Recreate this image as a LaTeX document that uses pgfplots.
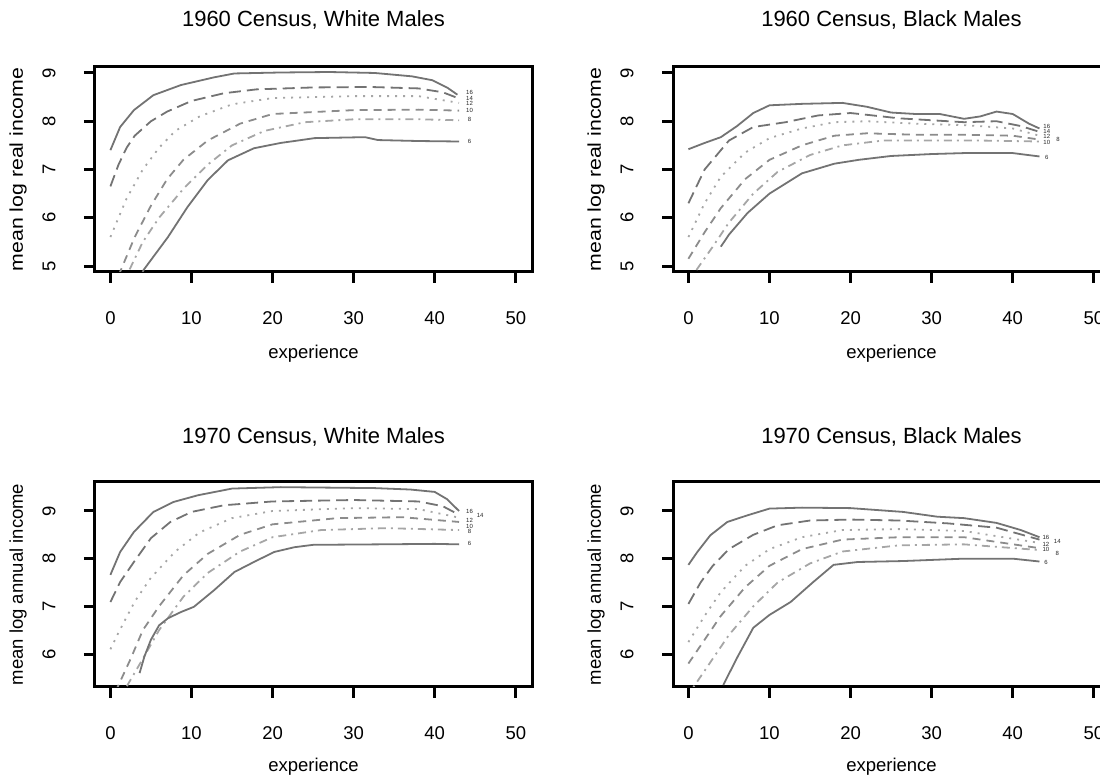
\documentclass[border=0pt]{standalone}
\usepackage{pgfplots}
\pgfplotsset{compat=1.18}
\usepackage{fontspec}
\setmainfont{Liberation Sans}
\usepackage{graphicx}

\tikzset{lab/.style={font=\fontsize{6}{6}\selectfont, text=black!85, inner sep=0pt}}
\pgfplotsset{
  panel/.style={
    scale only axis, width=437pt, height=205pt,
    xmin=-1.9, xmax=52,
    axis line style={line width=3pt, black},
    tick style={line width=3pt, black},
    tick align=outside, major tick length=11pt,
    xtick={0,10,20,30,40,50},
    xtick pos=bottom, ytick pos=left,
    /pgf/number format/assume math mode=true,
    ticklabel style={font=\fontsize{18.5}{18.5}\selectfont},
    xticklabel style={anchor=center, yshift=-35.5pt},
    yticklabel style={anchor=center, xshift=-35pt, rotate=90},
    every axis title/.style={at={(axis description cs:0.5,1)}, anchor=center, yshift=47pt, font=\fontsize{22}{22}\selectfont},
    every axis x label/.style={at={(axis description cs:0.5,0)}, anchor=center, yshift=-82pt, font=\fontsize{18.5}{18.5}\selectfont},
    every axis y label/.style={at={(axis description cs:0,0.5)}, anchor=center, xshift=-77pt, rotate=90, font=\fontsize{18.5}{18.5}\selectfont},
    xlabel={experience},
    clip=true,
  },
  cA/.style={black!55, line width=1.8pt},
  cB/.style={black!55, line width=1.8pt, dash pattern=on 12pt off 6pt},
  cC/.style={black!35, line width=1.8pt, dash pattern=on 2pt off 6pt},
  cD/.style={black!45, line width=1.8pt, dash pattern=on 8pt off 6pt},
  cE/.style={black!35, line width=1.8pt, dash pattern=on 2pt off 5pt on 8pt off 5pt},
  cF/.style={black!55, line width=1.8pt},
}

\begin{document}
\begin{tikzpicture}[x=1pt,y=1pt]
% ---------------- 1960 White ----------------
\begin{axis}[panel, at={(95pt,503pt)}, anchor=south west,
  ymin=4.876, ymax=9.124, ytick={5,6,7,8,9},
  title={1960 Census, White Males},
  ylabel={\scalebox{1.15}[1]{mean log real income}}]
\addplot[cA] coordinates {(0,7.40)(1.2,7.88)(2.9,8.23)(5.3,8.54)(8.7,8.75)(12.8,8.91)(15.3,8.99)(21,9.01)(27,9.02)(32.6,9.0)(37.2,8.93)(39.7,8.85)(41.6,8.69)(42.8,8.55)};
\addplot[cB] coordinates {(0,6.65)(1,7.1)(2,7.45)(3,7.7)(5,8.0)(7,8.2)(10,8.42)(14,8.58)(18,8.66)(25,8.7)(32,8.71)(38,8.68)(41,8.6)(43,8.47)};
\addplot[cC] coordinates {(0,5.6)(2,6.4)(4,7.0)(6,7.45)(8,7.8)(11,8.1)(15,8.35)(20,8.48)(30,8.52)(38,8.52)(43,8.38)};
\addplot[cD] coordinates {(1,4.8)(3,5.6)(5,6.25)(7,6.8)(9,7.2)(12,7.6)(16,7.95)(20,8.15)(30,8.23)(38,8.24)(43,8.22)};
\addplot[cE] coordinates {(2,4.8)(4,5.5)(6,6.0)(9,6.6)(12,7.1)(15,7.5)(19,7.8)(24,7.98)(30,8.04)(38,8.04)(43,8.02)};
\addplot[cF] coordinates {(3.8,4.8)(4.1,4.92)(7.1,5.6)(9.5,6.22)(12,6.78)(14.5,7.19)(17.7,7.44)(21,7.55)(25.2,7.65)(31.4,7.67)(33,7.61)(38,7.59)(43,7.58)};
\node[lab] at (axis cs:44.3,8.60) {16};
\node[lab] at (axis cs:44.3,8.48) {14};
\node[lab] at (axis cs:44.3,8.36) {12};
\node[lab] at (axis cs:44.3,8.23) {10};
\node[lab] at (axis cs:44.3,8.03) {8};
\node[lab] at (axis cs:44.3,7.59) {6};
\end{axis}
% ---------------- 1960 Black ----------------
\begin{axis}[panel, at={(673pt,503pt)}, anchor=south west,
  ymin=4.876, ymax=9.124, ytick={5,6,7,8,9},
  title={1960 Census, Black Males},
  ylabel={\scalebox{1.15}[1]{mean log real income}}]
\addplot[cA] coordinates {(0,7.42)(2,7.55)(4,7.67)(6,7.9)(8,8.17)(10,8.33)(14,8.36)(19,8.38)(22,8.3)(25,8.18)(28,8.15)(31,8.15)(34,8.05)(36,8.1)(38,8.2)(40,8.15)(42,7.95)(43.3,7.85)};
\addplot[cB] coordinates {(0,6.3)(2,7.0)(5,7.6)(8,7.88)(12,7.98)(16,8.12)(20,8.17)(26,8.06)(34,7.98)(38,8.0)(41,7.9)(43.3,7.78)};
\addplot[cC] coordinates {(0,5.6)(2,6.3)(4,6.85)(7,7.35)(10,7.65)(14,7.85)(18,7.98)(22,8.0)(28,7.95)(34,7.92)(40,7.85)(43.3,7.7)};
\addplot[cD] coordinates {(0,5.15)(2,5.7)(4,6.2)(7,6.8)(10,7.2)(14,7.5)(18,7.7)(22,7.75)(28,7.72)(34,7.72)(40,7.7)(43.3,7.62)};
\addplot[cE] coordinates {(0.5,4.8)(3,5.4)(5,5.9)(8,6.5)(11,6.95)(15,7.3)(19,7.5)(24,7.6)(30,7.6)(36,7.6)(43.3,7.58)};
\addplot[cF] coordinates {(4,5.4)(5,5.65)(7.3,6.1)(10,6.5)(14,6.92)(18,7.12)(21,7.2)(25,7.28)(30,7.32)(34,7.34)(40,7.34)(43.3,7.27)};
\node[lab] at (axis cs:44.2,7.90) {16};
\node[lab] at (axis cs:44.2,7.79) {14};
\node[lab] at (axis cs:44.2,7.68) {12};
\node[lab] at (axis cs:44.2,7.57) {10};
\node[lab] at (axis cs:45.6,7.62) {8};
\node[lab] at (axis cs:44.2,7.26) {6};
\end{axis}
% ---------------- 1970 White ----------------
\begin{axis}[panel, at={(95pt,88pt)}, anchor=south west,
  ymin=5.308, ymax=9.608, ytick={6,7,8,9},
  title={1970 Census, White Males}, title style={yshift=-2pt},
  ylabel={mean log annual income}, xlabel style={yshift=2pt}]
\addplot[cA] coordinates {(0,7.66)(1.2,8.14)(2.9,8.56)(5.3,8.98)(7.8,9.19)(10.8,9.33)(15,9.47)(21,9.5)(32.6,9.48)(37,9.45)(40,9.4)(41.5,9.25)(43,9.0)};
\addplot[cB] coordinates {(0,7.09)(1.2,7.51)(2.9,7.93)(5,8.43)(7.4,8.77)(10,8.98)(14,9.12)(20,9.2)(30,9.23)(38,9.2)(41,9.1)(43,8.92)};
\addplot[cC] coordinates {(0,6.1)(1,6.45)(3,7.1)(5,7.6)(8,8.15)(11,8.55)(15,8.85)(20,9.0)(30,9.06)(38,9.04)(43,8.86)};
\addplot[cD] coordinates {(0.6,5.2)(2.5,5.9)(4,6.5)(6,7.0)(9,7.65)(12,8.1)(16,8.5)(20,8.72)(28,8.85)(36,8.87)(43,8.77)};
\addplot[cE] coordinates {(1.6,5.2)(4,5.9)(6,6.5)(9,7.2)(12,7.7)(16,8.15)(20,8.45)(26,8.6)(34,8.64)(43,8.6)};
\addplot[cF] coordinates {(3.6,5.6)(4.2,5.95)(5,6.3)(6,6.6)(7.1,6.75)(8.7,6.88)(10.3,6.99)(12.8,7.34)(15.3,7.72)(17.7,7.93)(20.2,8.14)(22.7,8.24)(25,8.29)(33,8.3)(40,8.31)(43,8.3)};
\node[lab] at (axis cs:44.3,9.00) {16};
\node[lab] at (axis cs:45.6,8.90) {14};
\node[lab] at (axis cs:44.3,8.80) {12};
\node[lab] at (axis cs:44.3,8.68) {10};
\node[lab] at (axis cs:44.3,8.57) {8};
\node[lab] at (axis cs:44.3,8.31) {6};
\end{axis}
% ---------------- 1970 Black ----------------
\begin{axis}[panel, at={(673pt,88pt)}, anchor=south west,
  ymin=5.308, ymax=9.608, ytick={6,7,8,9},
  title={1970 Census, Black Males}, title style={yshift=-2pt},
  ylabel={mean log annual income}, xlabel style={yshift=2pt}]
\addplot[cA] coordinates {(0,7.87)(1.1,8.14)(2.7,8.49)(4.8,8.77)(7.3,8.91)(10,9.05)(14,9.07)(20,9.06)(26.5,8.98)(30.7,8.88)(34,8.85)(38,8.75)(41,8.6)(43.3,8.45)};
\addplot[cB] coordinates {(0,7.05)(1.5,7.5)(3,7.85)(5,8.2)(8,8.5)(11,8.7)(15,8.8)(20,8.82)(26,8.8)(32,8.74)(38,8.65)(43.3,8.4)};
\addplot[cC] coordinates {(0,6.25)(2,6.8)(4,7.3)(7,7.85)(10,8.2)(14,8.45)(19,8.6)(26,8.62)(34,8.58)(43.3,8.33)};
\addplot[cD] coordinates {(0,5.8)(2,6.3)(4,6.8)(7,7.4)(10,7.85)(14,8.2)(19,8.4)(26,8.45)(34,8.45)(43.3,8.22)};
\addplot[cE] coordinates {(0.6,5.3)(3,5.9)(5,6.4)(8,7.0)(11,7.5)(15,7.9)(19,8.15)(26,8.28)(34,8.3)(43.3,8.18)};
\addplot[cF] coordinates {(4.3,5.35)(6,5.92)(8,6.55)(10,6.82)(12.6,7.09)(15.4,7.51)(17.9,7.87)(20.9,7.93)(26.5,7.95)(34,8.0)(40,8.0)(43.3,7.94)};
\node[lab] at (axis cs:44.1,8.44) {16};
\node[lab] at (axis cs:45.5,8.36) {14};
\node[lab] at (axis cs:44.1,8.30) {12};
\node[lab] at (axis cs:44.1,8.19) {10};
\node[lab] at (axis cs:45.5,8.12) {8};
\node[lab] at (axis cs:44.1,7.93) {6};
\end{axis}
\pgfresetboundingbox
\path[use as bounding box] (0,0) rectangle (1100,775);
\end{tikzpicture}
\end{document}
